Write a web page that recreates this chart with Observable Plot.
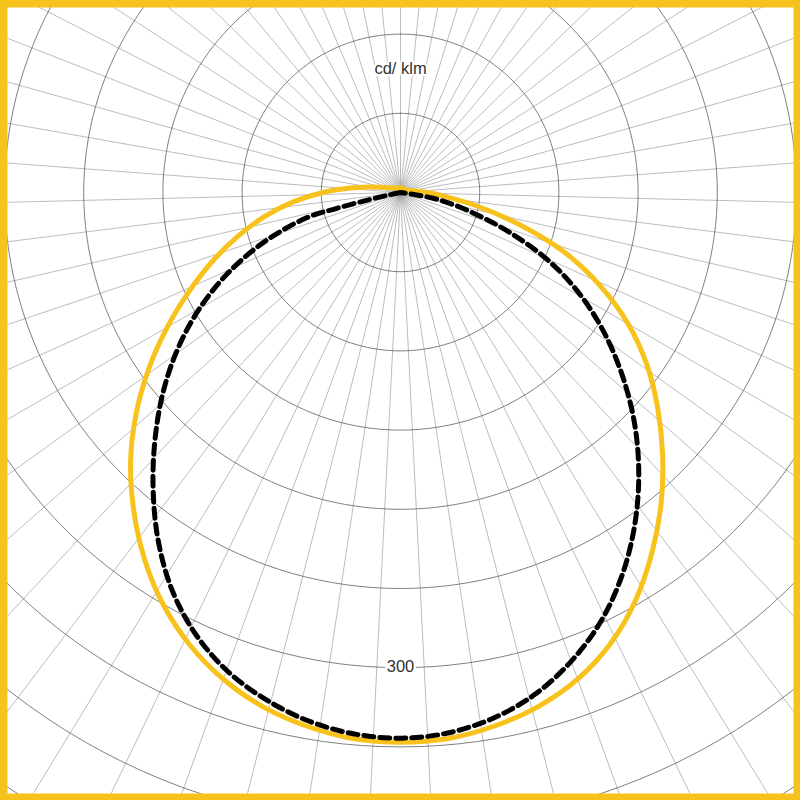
<!DOCTYPE html>
<html>
<head>
<meta charset="utf-8">
<script src="https://cdn.jsdelivr.net/npm/d3@7"></script>
<script src="https://cdn.jsdelivr.net/npm/@observablehq/plot@0.6"></script>
<style>
  html, body { margin: 0; padding: 0; background: #fff; }
  #chart svg { display: block; }
</style>
</head>
<body>
<div id="chart"></div>
<script>
// Angles in degrees measured from straight down (nadir); values in cd/klm
const yellowAngles = [0,5,10,15,20,25,30,35,40,45,50,55,60,65,70,75,80,85,90,95,100,105,110,120,135,150,165,180];
const yellowLeft   = [347,346,342,336,327,315,300,282,262,241,218,194,170,147,126,106,87,68,49,32,20,13,9,6,4,3,3,3];
const yellowRight  = [347,346,342,336,327,314,297,277,256,234,212,190,166,139,110,77,49,28,17,10,7,5,4,3,3,3,3,3];

const dashedLeftAngles  = [0,5,10,15,20,25,30,35,40,45,50,55,60,65,70,75,76,77,78,80];
const dashedLeft        = [344.5,343,338.5,331,321,307,289,267,243,219,195.5,171.5,146.5,120,92,61,42,22,8,0];
const dashedRightAngles = [0,5,10,15,20,25,30,35,40,45,50,55,60,65,70,75,78,80,81,82,85];
const dashedRight       = [344.5,342.5,337,328,315,299,279.5,257.5,234,209.5,184,158.5,132.5,104.5,73,44,30,21,12,4,0];

const ringValues = [50,100,150,200,250,300,350,400,450,500];
const ringLabelValue = 300;
const unitLabel = "cd/ klm";
const unitLabelRadius = 78;
const spokeCount = 63;

const YELLOW = "#F8C21C";
const pxPerUnit = 79.2 / 50;
const centerX = 400, centerY = 192, W = 800, H = 800;

const rad = d => d * Math.PI / 180;
const polar = (side, g, r) => ({x: side * r * Math.sin(rad(g)), y: -r * Math.cos(rad(g))});

function buildCurve(aL, vL, aR, vR) {
  const pts = [];
  for (let i = aL.length - 1; i >= 0; i--) pts.push(polar(-1, aL[i], vL[i]));
  for (let i = 1; i < aR.length; i++) pts.push(polar(1, aR[i], vR[i]));
  return pts;
}

const yellowPts = buildCurve(yellowAngles, yellowLeft, yellowAngles, yellowRight);
const dashedPts = buildCurve(dashedLeftAngles, dashedLeft, dashedRightAngles, dashedRight);

const ringPts = [];
for (const v of ringValues) {
  for (let a = 0; a <= 360; a += 2) ringPts.push({ring: v, x: v * Math.sin(rad(a)), y: v * Math.cos(rad(a))});
}

const spokes = d3.range(spokeCount).map(k => polar(1, 180 + k * 360 / spokeCount, 700));

const chart = Plot.plot({
  width: W,
  height: H,
  margin: 0,
  x: {domain: [-centerX / pxPerUnit, (W - centerX) / pxPerUnit], axis: null},
  y: {domain: [-(H - centerY) / pxPerUnit, centerY / pxPerUnit], axis: null},
  style: {background: "#fff"},
  marks: [
    Plot.link(spokes, {x1: () => 0, y1: () => 0, x2: "x", y2: "y", stroke: "#8f8f8f", strokeWidth: 0.6}),
    Plot.line(ringPts, {x: "x", y: "y", z: "ring", stroke: "#555", strokeWidth: 0.75}),
    Plot.text([{x: 0, y: -ringLabelValue, t: String(ringLabelValue)}], {
      x: "x", y: "y", text: "t", fontSize: 16.5, fill: "#333", stroke: "#fff", strokeWidth: 5,
      fontFamily: "Liberation Sans, Arial, sans-serif", dy: -1
    }),
    Plot.text([{x: 0, y: unitLabelRadius, t: unitLabel}], {
      x: "x", y: "y", text: "t", fontSize: 16.5, fill: "#333", stroke: "#fff", strokeWidth: 4,
      fontFamily: "Liberation Sans, Arial, sans-serif"
    }),
    Plot.line(yellowPts, {x: "x", y: "y", stroke: YELLOW, strokeWidth: 5, curve: "catmull-rom"}),
    Plot.line(dashedPts, {x: "x", y: "y", stroke: "#000", strokeWidth: 5, strokeDasharray: "10,6", curve: "catmull-rom"}),
    Plot.frame({stroke: YELLOW, strokeWidth: 14})
  ]
});
document.getElementById("chart").appendChild(chart);
</script>
</body>
</html>
